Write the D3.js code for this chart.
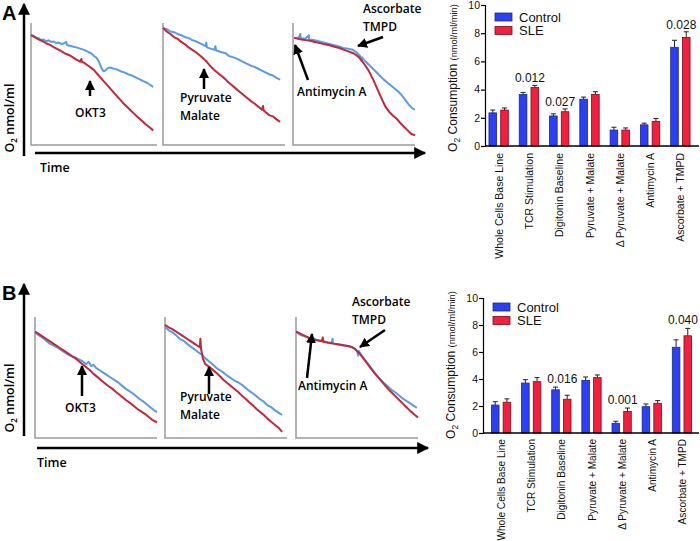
<!DOCTYPE html>
<html><head><meta charset="utf-8">
<script src="https://cdn.jsdelivr.net/npm/d3@7"></script>
<style>
body{margin:0;background:#fff;}
svg{display:block;}
</style></head>
<body>
<svg id="c" width="700" height="541"></svg>
<script>
// ---------------- DATA ----------------
const categories = ["Whole Cells Base Line","TCR Stimulation","Digitonin Baseline","Pyruvate + Malate","\u0394 Pyruvate + Malate","Antimycin A","Ascorbate + TMPD"];
const seriesNames = ["Control","SLE"];
const yTicks = [0,2,4,6,8,10];

const controlA = [2.35,3.65,2.13,3.32,1.13,1.5,7.0];
const sleA     = [2.55,4.15,2.43,3.65,1.13,1.75,7.7];
const controlErrA = [0.2,0.15,0.15,0.15,0.2,0.12,0.5];
const sleErrA     = [0.15,0.15,0.2,0.2,0.15,0.2,0.4];
const pValuesA = [null,"0.012","0.027",null,null,null,"0.028"];

const controlB = [2.07,3.7,3.2,3.9,0.72,1.95,6.35];
const sleB     = [2.28,3.8,2.5,4.1,1.6,2.2,7.2];
const controlErrB = [0.25,0.25,0.2,0.25,0.15,0.2,0.55];
const sleErrB     = [0.25,0.3,0.3,0.2,0.25,0.2,0.55];
const pValuesB = [null,null,"0.016",null,"0.001",null,"0.040"];

// O2 traces [time (% of window), O2 (% of window)]
const traceA1Control = [[0,90],[2,89.5],[4,88],[6,87.6],[8,86],[10,86.5],[12,85],[14,85.8],[16,84.5],[18,84.8],[20,83.6],[22,84],[24,82.8],[26,83.2],[28,84.5],[28.5,82],[30,81.6],[33,80.8],[36,80],[39,79],[42,78],[45,76.5],[48,75],[50,73],[52,71.5],[54,68],[56,63],[57.5,60.5],[59,61],[61,63],[63,63.5],[65,62.8],[68,62],[71,60.5],[74,59.5],[77,58],[80,57],[83,55.5],[86,54],[89,52.3],[92,51],[95,49],[97,47.5]];
const traceA1SLE = [[0,90],[3,88.5],[6,86.6],[9,85.2],[12,83.4],[15,82],[18,80.2],[21,78.6],[24,77],[27,75],[30,73.8],[33,72],[36,70],[39,68.3],[40,70.5],[40.5,68],[42,67.5],[44,66],[46,64.5],[48,63],[50,61.5],[52,59],[55,55.5],[58,52],[61,48.5],[64,45],[67,41.5],[70,38],[73,34.5],[76,31.5],[79,28.5],[82,25.5],[85,22.5],[88,19.8],[91,17],[94,14.5],[97,12]];
const traceA2Control = [[0,96],[3,95],[6,93],[9,92.5],[12,91],[15,90],[18,88.5],[21,87.6],[24,86],[27,85],[30,83.5],[33,82],[35,81],[35.5,84],[36,80],[39,79],[42,78],[43,81],[43.5,77.5],[45,77],[48,76],[51,75.5],[54,73],[57,72],[60,71],[63,69.5],[66,68],[69,66.5],[72,65],[75,64],[78,62.5],[81,61],[84,59.5],[87,58],[90,57],[93,55],[96,53.5]];
const traceA2SLE = [[0,96],[3,93],[6,91],[9,88.5],[12,87],[15,84.5],[18,82.5],[21,80],[24,78],[27,76],[30,73.5],[33,71],[36,68],[39,64.5],[42,61.5],[45,59],[48,56.5],[51,54],[54,51],[57,48.5],[60,46],[63,43.5],[66,41],[69,38.5],[72,36],[75,34],[78,31.5],[81,29],[82,32],[82.4,28.5],[84,27],[87,24.5],[90,23.5],[93,21],[96,19]];
const traceA3Control = [[1,88],[3,87.6],[5,88.5],[6,91],[6.4,87.5],[10,87],[13,90],[13.3,86.5],[17,86],[21,85],[25,84],[29,83],[33,82],[37,81],[41,79.5],[45,79],[49,78],[52,76],[55,73],[56,69],[56.4,72],[59,69],[62,66],[65,63],[68,60],[71,57],[74,54],[77,51.5],[80,49],[83,46.5],[86,44],[89,41],[92,37],[95,33],[98,30],[100,29]];
const traceA3SLE = [[1,88],[4,87],[7,86.5],[10,86],[14,85.5],[18,84.5],[22,83.5],[26,82.5],[30,81.8],[34,80.5],[38,79.5],[42,78],[46,76.5],[50,75],[54,72],[58,67],[62,61],[66,53],[70,44],[74,35],[76,31],[79,27],[82,24],[85,21.5],[88,18],[91,15],[94,12],[97,9],[100,8]];
const traceB1Control = [[0,87],[3,85],[6,83],[9,80.5],[12,78],[15,76.5],[18,75],[21,73],[24,71],[27,69],[30,67.5],[33,66.5],[36,65],[39,63.5],[42,61],[44,63],[46,59.5],[48,60.5],[50,58],[53,56],[56,54],[59,52],[62,50],[65,48],[68,46],[71,43.5],[74,41],[77,39],[80,37],[83,34.5],[86,32],[89,30],[92,27.5],[95,25],[98,22.5],[100,21.5]];
const traceB1SLE = [[0,88],[3,86],[6,84],[9,82],[12,80],[15,78],[18,76],[21,74],[24,72],[27,70],[30,68],[33,66],[36,63.5],[39,61],[42,58.5],[45,56],[48,53],[51,50.5],[54,48],[57,45.5],[60,43],[63,41],[66,38.5],[69,36],[72,33.5],[75,31],[78,29],[81,26.5],[84,24],[87,22],[90,20],[93,17.5],[96,15],[100,13]];
const traceB2Control = [[0,92],[3,89],[6,87.5],[9,85],[12,82],[15,80.5],[18,78],[21,75.5],[24,73.5],[27,71],[30,69],[33,66],[36,63.5],[39,61],[42,58],[45,56],[48,54],[51,51.5],[54,49.5],[57,47.5],[60,46],[63,44],[66,41.5],[69,39],[72,37],[75,34.5],[78,32],[81,30],[84,27],[87,25.5],[90,23],[93,21],[96,19]];
const traceB2SLE = [[0,93.5],[3,91.5],[6,90],[9,88],[12,86],[15,84],[18,82],[21,80],[24,78],[27,76],[28.5,75],[29,82],[29.5,74],[31,66],[33,61],[36,59],[39,56.5],[42,54],[45,51],[48,48],[51,45.5],[54,43],[57,40.5],[60,38],[63,35],[66,32.5],[69,29.5],[72,27],[75,24],[78,21.5],[81,19],[84,16],[87,13.5],[90,11],[93,8.5],[96,5]];
const traceB3Control = [[1,87],[4,85],[7,84],[10,83],[12,82],[14,82.5],[17,81],[20,80.5],[23,80],[26,79],[29,78.5],[30,82],[30.3,78],[33,77.5],[36,77],[39,76.5],[42,76],[45,75.5],[48,74],[50,72],[51,68],[51.4,72],[54,68],[57,64],[60,60],[63,56],[66,52],[69,48.5],[72,45.5],[75,43],[78,40],[81,38],[84,35.5],[87,33],[90,31],[93,29],[96,27],[99,25]];
const traceB3SLE = [[0,88],[3,86.5],[6,85],[9,83.5],[12,82],[15,81],[18,80.5],[21,80],[22,83],[22.3,79.5],[25,79],[28,78.5],[31,78],[34,77.5],[37,77],[40,76.5],[43,76],[46,75],[49,73],[52,70],[55,66],[58,62],[61,58],[64,54],[67,50.5],[70,47],[73,43.5],[76,40],[79,37],[82,34],[85,31],[88,28],[91,25],[94,22],[97,19.5],[100,17]];

// ---------------- DRAW ----------------
const svg = d3.select("#c");
const FONT = "'Open Sans', 'Liberation Sans', Arial, sans-serif";
const ARIAL = "'Liberation Sans', Arial, sans-serif";
const COL = {ctrlTrace:"#5b9be3", sleTrace:"#c1283c", ctrlBar:"#2c40f0", sleBar:"#f0203f", ctrlStroke:"#1b2a8a", sleStroke:"#7a0d1c"};

const defs = svg.append("defs");
defs.append("marker").attr("id","ah").attr("viewBox","0 0 10 10").attr("refX",9).attr("refY",5)
  .attr("markerWidth",10).attr("markerHeight",10).attr("markerUnits","userSpaceOnUse").attr("orient","auto")
  .append("path").attr("d","M0,0 L10,5 L0,10 z").attr("fill","#000");
defs.append("marker").attr("id","ahBig").attr("viewBox","0 0 10 10").attr("refX",9).attr("refY",5)
  .attr("markerWidth",13).attr("markerHeight",12).attr("markerUnits","userSpaceOnUse").attr("orient","auto")
  .append("path").attr("d","M0,0 L10,5 L0,10 z").attr("fill","#000");

function arrow(x1,y1,x2,y2,w,big){
  svg.append("line").attr("x1",x1).attr("y1",y1).attr("x2",x2).attr("y2",y2)
    .attr("stroke","#000").attr("stroke-width",w).attr("marker-end",big?"url(#ahBig)":"url(#ah)");
}
function label(x,y,lines,size,anchor){
  const t = svg.append("text").attr("x",x).attr("y",y).attr("font-family",FONT).attr("font-size",size||12)
    .attr("font-weight",600).attr("fill","#000").attr("text-anchor",anchor||"start");
  lines.forEach((s,i)=>t.append("tspan").attr("x",x).attr("dy",i?17.5:0).text(s));
}

function tracePanel(box, ctrl, sle){
  const x = d3.scaleLinear().domain([0,100]).range([box.l, box.r]);
  const y = d3.scaleLinear().domain([0,100]).range([box.b, box.t]);
  svg.append("path").attr("d",`M${box.l},${box.t}V${box.b}H${box.r}`).attr("fill","none").attr("stroke","#9a9a9a").attr("stroke-width",1.5);
  const line = d3.line().x(d=>x(d[0])).y(d=>y(d[1]));
  svg.append("path").datum(ctrl).attr("d",line).attr("fill","none").attr("stroke",COL.ctrlTrace).attr("stroke-width",2).attr("stroke-linejoin","round");
  svg.append("path").datum(sle).attr("d",line).attr("fill","none").attr("stroke",COL.sleTrace).attr("stroke-width",2).attr("stroke-linejoin","round");
}

function traceRow(top, label0, axisX, yArrowTop, yArrowBot, timeY, timeX0, timeX1, boxes, traces){
  svg.append("text").attr("x",2).attr("y",top+20).attr("font-family",ARIAL).attr("font-weight","bold").attr("font-size",20).text(label0);
  arrow(axisX,yArrowBot,axisX,yArrowTop,2.5,true);
  arrow(timeX0,timeY,timeX1,timeY,2.5,true);
  boxes.forEach((b,i)=>tracePanel(b, traces[i][0], traces[i][1]));
}

// Row A
traceRow(0,"A",24,4,156,153,35,425,
  [{l:31,r:157,t:23,b:145},{l:163,r:285,t:23,b:145},{l:293,r:415,t:23,b:145}],
  [[traceA1Control,traceA1SLE],[traceA2Control,traceA2SLE],[traceA3Control,traceA3SLE]]);
// Row B
traceRow(280,"B",24,284,436,448,37,428,
  [{l:35,r:157,t:317,b:438},{l:165,r:287,t:317,b:438},{l:296,r:418,t:317,b:438}],
  [[traceB1Control,traceB1SLE],[traceB2Control,traceB2SLE],[traceB3Control,traceB3SLE]]);

// O2 nmol/ml labels & Time
function o2label(cx,cy){
  const t = svg.append("text").attr("transform",`translate(${cx},${cy}) rotate(-90)`).attr("text-anchor","middle")
    .attr("font-family",FONT).attr("font-weight",600).attr("font-size",12.5);
  t.append("tspan").text("O");
  t.append("tspan").attr("font-size",8).attr("dy",3).text("2");
  t.append("tspan").attr("dy",-3).text(" nmol/ml");
}
o2label(14,118); o2label(14,398);
label(40,172,["Time"],12.5); label(37,467,["Time"],12.5);

// annotations A
label(75,117,["OKT3"]); arrow(90,96,90,81,2.5);
label(180,102,["Pyruvate","Malate"]); arrow(204,89,204,69,2.5);
label(297,96,["Antimycin A"]); arrow(308,80,295,45,2.5);
label(363,13,["Ascorbate","TMPD"]); arrow(383,37,358,46,2.5);
// annotations B
label(65,412,["OKT3"]); arrow(82,396,82,366,2.5);
label(180,401,["Pyruvate","Malate"]); arrow(209,394,209,367,2.5);
label(298,390,["Antimycin A"]); arrow(307,378,312,334,2.5);
label(352,306,["Ascorbate","TMPD"]); arrow(385,330,360,347,2.5);

// ---------------- BAR CHARTS ----------------
function barChart(o){
  const g = svg.append("g");
  const y = d3.scaleLinear().domain([0,10]).range([o.y0,o.y10]);
  const x = d3.scaleBand().domain(categories).range([o.xb0,o.xb1]).padding(0);
  const xs = d3.scaleBand().domain(seriesNames).range([x.step()*0.18, x.step()*0.82]).paddingInner(0.35);
  // axis
  const ax = g.append("g").attr("transform",`translate(${o.axisX},0)`)
    .call(d3.axisLeft(y).tickValues(yTicks).tickSize(4).tickFormat(d3.format("d")));
  ax.select(".domain").attr("stroke","#000").attr("stroke-width",1.2);
  ax.selectAll(".tick line").attr("stroke","#000").attr("stroke-width",1.2);
  ax.selectAll("text").attr("font-family",ARIAL).attr("font-size",10.5).attr("fill","#111").attr("x",-5);
  const rows = categories.map((c,i)=>({c,i,vals:[
    {s:"Control",v:o.ctrl[i],e:o.ctrlErr[i]},{s:"SLE",v:o.sle[i],e:o.sleErr[i]}]}));
  const grp = g.selectAll(".grp").data(rows).join("g").attr("transform",d=>`translate(${x(d.c)},0)`);
  grp.selectAll("line.err").data(d=>d.vals).join("line").attr("class","err")
    .attr("x1",d=>xs(d.s)+xs.bandwidth()/2).attr("x2",d=>xs(d.s)+xs.bandwidth()/2)
    .attr("y1",d=>y(d.v)).attr("y2",d=>y(d.v+d.e)).attr("stroke","#222").attr("stroke-width",1);
  grp.selectAll("line.cap").data(d=>d.vals).join("line").attr("class","cap")
    .attr("x1",d=>xs(d.s)+xs.bandwidth()/2-2.5).attr("x2",d=>xs(d.s)+xs.bandwidth()/2+2.5)
    .attr("y1",d=>y(d.v+d.e)).attr("y2",d=>y(d.v+d.e)).attr("stroke","#222").attr("stroke-width",1);
  grp.selectAll("rect").data(d=>d.vals).join("rect")
    .attr("x",d=>xs(d.s)).attr("width",xs.bandwidth())
    .attr("y",d=>y(d.v)).attr("height",d=>y(0)-y(d.v))
    .attr("fill",d=>d.s==="Control"?COL.ctrlBar:COL.sleBar)
    .attr("stroke",d=>d.s==="Control"?COL.ctrlStroke:COL.sleStroke).attr("stroke-width",0.8);
  // x axis baseline
  g.append("line").attr("x1",o.axisX).attr("x2",o.xEnd).attr("y1",y(0)).attr("y2",y(0)).attr("stroke","#000").attr("stroke-width",1.4);
  // category labels
  g.selectAll("text.cat").data(categories).join("text").attr("class","cat")
    .attr("transform",c=>`translate(${x(c)+x.bandwidth()/2+4},${y(0)+o.catGap}) rotate(-90)`)
    .attr("text-anchor","end").attr("font-family",ARIAL).attr("font-size",o.catSize).attr("fill","#111").text(c=>c);
  // p-values
  g.selectAll("text.pv").data(rows.filter(d=>o.pv[d.i])).join("text").attr("class","pv")
    .attr("x",d=>x(d.c)+x.bandwidth()/2+1).attr("y",d=>y(d3.max(d.vals,v=>v.v+v.e))-o.pvOff)
    .attr("text-anchor","middle").attr("font-family",ARIAL).attr("font-size",12).attr("fill","#111").text(d=>o.pv[d.i]);
  // legend
  seriesNames.forEach((s,i)=>{
    g.append("rect").attr("x",o.legX).attr("y",o.legY+i*13.5).attr("width",17).attr("height",8)
      .attr("fill",i?COL.sleBar:COL.ctrlBar).attr("stroke",i?COL.sleStroke:COL.ctrlStroke).attr("stroke-width",0.8);
    g.append("text").attr("x",o.legX+24).attr("y",o.legY+i*13.5+8.5).attr("font-family",ARIAL).attr("font-size",13).attr("fill","#111").text(s);
  });
  // y label
  const t = g.append("text").attr("transform",`translate(${o.labX},${o.labY}) rotate(-90)`).attr("text-anchor","middle")
    .attr("font-family",ARIAL).attr("font-size",12).attr("fill","#111");
  t.append("tspan").text("O");
  t.append("tspan").attr("font-size",8.5).attr("dy",3).text("2");
  t.append("tspan").attr("dy",-3).text(" Consumption ");
  t.append("tspan").attr("font-size",9.3).text("(nmol/ml/min)");
}

barChart({ctrl:controlA,sle:sleA,ctrlErr:controlErrA,sleErr:sleErrA,pv:pValuesA,catSize:10.5,catGap:7,
  y0:146,y10:5,axisX:485,xb0:483.5,xb1:695.5,xEnd:699,legX:495,legY:13,labX:457,labY:78,pvOff:3});
barChart({ctrl:controlB,sle:sleB,ctrlErr:controlErrB,sleErr:sleErrB,pv:pValuesB,catSize:10.1,catGap:6,
  y0:433,y10:298,axisX:483,xb0:486,xb1:697,xEnd:699,legX:493,legY:303,labX:455,labY:365,pvOff:4});
</script>
</body></html>
